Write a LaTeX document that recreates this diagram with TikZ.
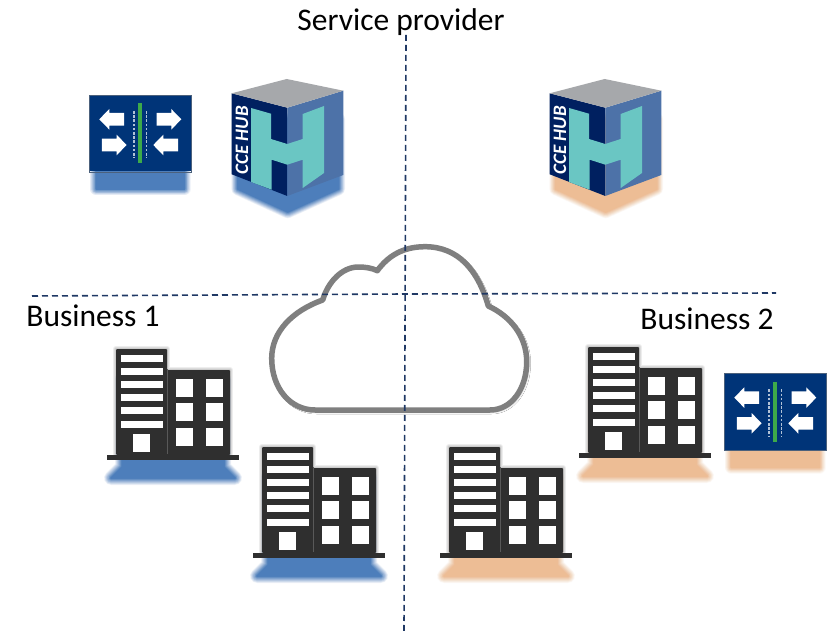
\documentclass[tikz,border=0pt]{standalone}
\usepackage{fontspec}
\setmainfont{Carlito}
\usetikzlibrary{shadows.blur}
\definecolor{navy}{HTML}{002060}
\definecolor{swblue}{HTML}{003478}
\definecolor{cuberight}{HTML}{4D72A8}
\definecolor{cubetop}{HTML}{A6A8AB}
\definecolor{teal}{HTML}{6AC6C3}
\definecolor{bar}{HTML}{3DAA4A}
\definecolor{darkb}{HTML}{2F2F2F}
\definecolor{shblue}{HTML}{4D7EBB}
\definecolor{shorange}{HTML}{EDBD95}
\definecolor{dashc}{HTML}{1F3864}
\definecolor{cloudc}{HTML}{7F7F7F}
\tikzset{
  labeltext/.style={font=\fontsize{31.5}{34}\selectfont,text=black,inner sep=0pt},
  divider/.style={draw=dashc,line width=1.6pt,dash pattern=on 6pt off 4pt},
}
% blurred polygon with a linear ramp: #1 colour, #2 stroke step, #3 path
\newcommand\softpoly[3]{%
  \foreach \i in {14,13,...,1}{%
    \pgfmathsetmacro\op{1/\i}%
    \pgfmathsetmacro\lw{\i*#2}%
    \path[line join=round,draw=#1,line width=\lw pt,draw opacity=\op] #3;
  }%
  \fill[#1] #3;
}
\newcommand\buildingicon[3]{%
  \begin{scope}[shift={(#1,#2)}]
    \softpoly{#3}{1}{(15,30)--(117,30)--(117,118)--(128,129)--(4,129)--(15,118)--cycle}
    \foreach \w in {6,4,2}{\path[draw=black,opacity=.07,line width=\w pt,line join=round]
      (9,0)--(60,0)--(60,21)--(123,21)--(123,105)--(9,105)--cycle;}
    \fill[darkb,rounded corners=1pt] (9,0)--(60,0)--(60,21)--(123,21)--(123,106)--(9,106)--cycle;
    \fill[darkb] (0,105.5) rectangle (132,111);
    \draw[gray!70!black,line width=.4pt] (60,21)--(60,105);
    \foreach \s in {6,19,32,45,58,72}{\fill[white] (14,\s) rectangle (56,\s+7);}
    \fill[white] (26,85) rectangle (43,103);
    \foreach \c in {69,99}{\foreach \r in {30,54,79}{\fill[white] (\c,\r) rectangle (\c+17,\r+18);}}
  \end{scope}%
}
\newcommand\swicharrow[3]{%
  \begin{scope}[shift={(#1,#3)},xscale=#2]
    \fill[white,line join=round] (0,0)--(10,-10.3)--(10,-6.3)--(24.7,-6.3)--(24.7,6.3)--(10,6.3)--(10,10.3)--cycle;
  \end{scope}%
}
\newcommand\switchicon[3]{%
  \begin{scope}[shift={(#1,#2)}]
    \softpoly{#3}{.9}{(7,34)--(95,34)--(95,94)--(7,94)--cycle}
    \fill[swblue] (0,0) rectangle (102.4,76.5);
    \draw[gray!60!swblue,line width=.5pt] (0,0) rectangle (102.4,77);
    \fill[bar] (49,8.3) rectangle (53,68.3);
    \foreach \x in {44.7,57.3}{\draw[white!70!swblue,line width=1.6pt,dash pattern=on 2.6pt off 1.6pt] (\x,16)--(\x,63);}
    \swicharrow{10}{1}{24.3}
    \swicharrow{92}{-1}{24.3}
    \swicharrow{37.3}{-1}{50}
    \swicharrow{64}{1}{50}
  \end{scope}%
}
\newcommand\cubeicon[3]{%
  \begin{scope}[shift={(#1,#2)}]
    \softpoly{#3}{.9}{(6,40)--(107,40)--(107,110)--(56,133)--(6,110)--cycle}
    \fill[navy] (0,14.3)--(55.6,28.7)--(55.6,117)--(0,95.3)--cycle;
    \fill[cuberight] (55.6,28.7)--(111.6,11.7)--(111.6,96)--(55.6,117)--cycle;
    \fill[cubetop] (0,14.3)--(55,0)--(111.6,11.7)--(55.6,28.7)--cycle;
    \fill[teal] (19.3,29)--(39.3,34.7)--(39.3,60)--(55.6,65)--(71,60)--(71,35)--(92.3,27)--(92.3,94)--(71,109)--(71,80.7)--(55.6,85.7)--(40,80.7)--(40,110.7)--(19.3,103)--cycle;
    \node[rotate=90,text=white,inner sep=0pt,font=\fontsize{19}{21}\selectfont\bfseries\itshape] (#1cce) at (10.3,61.5) {CCE HUB};
  \end{scope}%
}
\begin{document}
\begin{tikzpicture}[x=1pt,y=-1pt]
  \useasboundingbox (0,0) rectangle (828,631);
  \fill[white] (0,0) rectangle (828,631);
  % icons
  \switchicon{89.3}{95}{shblue}
  \cubeicon{231.7}{79}{shblue}
  \cubeicon{549.7}{79}{shorange}
  \switchicon{724.3}{373.3}{shorange}
  \buildingicon{107}{349}{shblue}
  \buildingicon{253}{447}{shblue}
  \buildingicon{440}{447}{shorange}
  \buildingicon{579}{347}{shorange}
  % cloud
  \path[draw=cloudc,fill=white,line width=5.5pt,line join=round,
        blur shadow={shadow xshift=1.5pt,shadow yshift=-1.5pt,shadow blur steps=6,shadow opacity=35,shadow blur radius=2.5pt}]
    (315,410)--(490,410)
    .. controls (512,410) and (526.7,388) .. (526.7,361.7)
    .. controls (526.7,336) and (510,316) .. (488.3,306)
    .. controls (478,270) and (458,246.7) .. (425,246.7)
    .. controls (403,246.7) and (388,256) .. (377.3,270.7)
    .. controls (372,268) and (365,267) .. (358.3,267)
    .. controls (342,267) and (328,282) .. (322.7,300)
    .. controls (292,311) and (271.7,332) .. (271.7,358.3)
    .. controls (271.7,388) and (290,410) .. (315,410)--cycle;
  % dividers
  \coordinate (vtop) at (406,35);
  \coordinate (vbot) at (404,631);
  \coordinate (hleft) at (32,296);
  \coordinate (hmid) at (405,294);
  \coordinate (hright) at (776,293);
  \draw[divider] (vtop)--(vbot);
  \draw[divider] (hleft)--(hmid)--(hright);
  % labels
  \node[labeltext] (sp) at (401,22.5) {Service provider};
  \node[labeltext] (b1) at (93,316) {Business 1};
  \node[labeltext] (b2) at (707,319) {Business 2};
\end{tikzpicture}
\end{document}
